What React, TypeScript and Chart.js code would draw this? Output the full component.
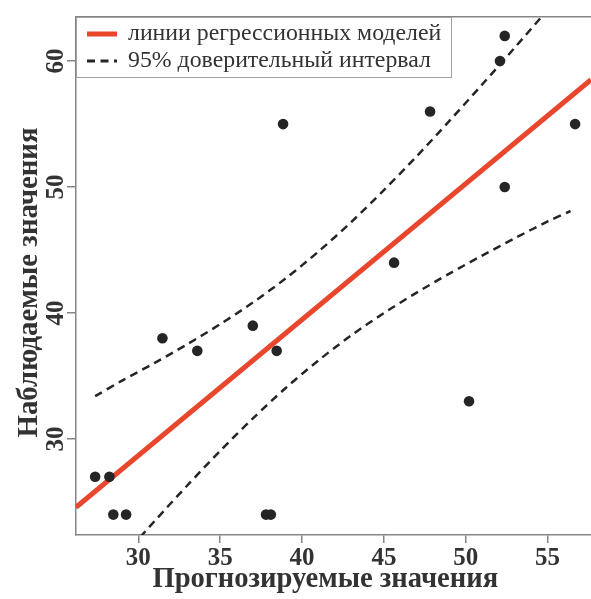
import React, { useEffect, useRef } from "react";
import { Chart, registerables } from "chart.js";

Chart.register(...registerables);

// Observed vs predicted points
const predicted = [27.36, 28.23, 28.47, 29.25, 31.47, 33.6, 36.99, 37.8, 38.09, 38.45, 38.84, 45.62, 47.82, 50.2, 52.09, 52.38, 52.38, 56.68];
const observed = [27, 27, 24, 24, 38, 37, 39, 24, 24, 37, 55, 44, 56, 33, 60, 62, 50, 55];

// Regression line (endpoints at plot edges)
const regX = [26.19, 57.65];
const regY = [24.58, 58.52];

// 95% confidence band
const ciX = [27.36, 29, 31, 33, 35, 37, 39, 41, 43, 45, 47, 49, 51, 53, 55, 56.4];
const ciUpper = [33.4, 34.63, 36.04, 37.53, 39.12, 40.84, 42.75, 44.88, 47.22, 49.76, 52.44, 55.25, 58.14, 61.08, 64.07, 66.2];
const ciLower = [18.2, 20.59, 23.5, 26.33, 29.06, 31.64, 34.05, 36.24, 38.22, 40.0, 41.62, 43.13, 44.56, 45.94, 47.27, 48.1];

const xTicks = [30, 35, 40, 45, 50, 55];
const yTicks = [30, 40, 50, 60];

const legendLabels = ["линии регрессионных моделей", "95% доверительный интервал"];
const xTitle = "Прогнозируемые значения";
const yTitle = "Наблюдаемые значения";

const AXIS = "#858585";
const TEXT = "#333333";
const RED = "#e8472e";
const DARK = "#252525";
const SERIF = "'Liberation Serif', 'Times New Roman', serif";

const legendPlugin = {
  id: "insideLegend",
  afterDraw(chart: any) {
    const { ctx, chartArea } = chart;
    const x0 = chartArea.left;
    const y0 = chartArea.top;
    const w = 375;
    const h = 60;
    ctx.save();
    ctx.fillStyle = "#ffffff";
    ctx.fillRect(x0, y0, w, h);
    ctx.strokeStyle = "#a0a0a0";
    ctx.lineWidth = 1;
    ctx.strokeRect(x0 + 0.5, y0 + 0.5, w, h);
    const items = chart.data.datasets.filter((d: any) => d.legendText);
    items.forEach((d: any, i: number) => {
      const cy = y0 + 17 + i * 27;
      ctx.beginPath();
      ctx.strokeStyle = d.borderColor;
      ctx.lineWidth = d.legendLineWidth;
      ctx.setLineDash(d.borderDash || []);
      ctx.lineCap = "butt";
      ctx.moveTo(x0 + 11, cy);
      ctx.lineTo(x0 + 41, cy);
      ctx.stroke();
      ctx.setLineDash([]);
      ctx.fillStyle = TEXT;
      ctx.font = `23.8px ${SERIF}`;
      ctx.textAlign = "left";
      ctx.textBaseline = "middle";
      ctx.fillText(d.legendText, x0 + 52, cy);
    });
    ctx.restore();
  },
};

const titlesPlugin = {
  id: "axisTitles",
  afterDraw(chart: any) {
    const { ctx, chartArea } = chart;
    ctx.save();
    ctx.fillStyle = TEXT;
    ctx.textAlign = "center";
    ctx.textBaseline = "alphabetic";
    ctx.font = `bold 28.6px ${SERIF}`;
    const cx = (chartArea.left + chartArea.right) / 2 - 8.2;
    ctx.fillText(xTitle, cx, chartArea.bottom + 52);
    ctx.font = `bold 28.8px ${SERIF}`;
    const cy = (chartArea.top + chartArea.bottom) / 2 + 6.5;
    ctx.translate(37, cy);
    ctx.rotate(-Math.PI / 2);
    ctx.fillText(yTitle, 0, 0);
    ctx.restore();
  },
};

export default function App() {
  const ref = useRef<HTMLCanvasElement>(null);
  useEffect(() => {
    if (!ref.current) return;
    const chart = new Chart(ref.current, {
      type: "scatter",
      data: {
        datasets: [
          {
            label: "points",
            data: predicted.map((x, i) => ({ x, y: observed[i] })),
            pointRadius: 5.3,
            pointBackgroundColor: DARK,
            pointBorderWidth: 0,
            showLine: false,
          },
          {
            label: "regression",
            legendText: legendLabels[0],
            legendLineWidth: 5,
            data: regX.map((x, i) => ({ x, y: regY[i] })),
            showLine: true,
            borderColor: RED,
            borderWidth: 5,
            pointRadius: 0,
            clip: 0,
          } as any,
          {
            label: "upper",
            legendText: legendLabels[1],
            legendLineWidth: 3,
            data: ciX.map((x, i) => ({ x, y: ciUpper[i] })),
            showLine: true,
            borderColor: DARK,
            borderWidth: 2.5,
            borderDash: [8, 5.5],
            pointRadius: 0,
            tension: 0.3,
            clip: 0,
          } as any,
          {
            label: "lower",
            data: ciX.map((x, i) => ({ x, y: ciLower[i] })),
            showLine: true,
            borderColor: DARK,
            borderWidth: 2.5,
            borderDash: [8, 5.5],
            pointRadius: 0,
            tension: 0.3,
            clip: 0,
          } as any,
        ],
      },
      options: {
        responsive: false,
        animation: false,
        events: [],
        layout: { padding: 0, autoPadding: false },
        plugins: { legend: { display: false }, tooltip: { enabled: false } },
        scales: {
          x: {
            type: "linear",
            position: "bottom",
            min: 26.19,
            max: 57.65,
            afterBuildTicks: (s: any) => {
              s.ticks = xTicks.map((v) => ({ value: v }));
            },
            afterFit: (s: any) => {
              s.height = 64;
            },
            ticks: {
              includeBounds: false,
              color: TEXT,
              font: { family: SERIF, size: 25, weight: "bold" },
              padding: 1,
              maxRotation: 0,
              minRotation: 0,
            },
            grid: { drawOnChartArea: false, drawTicks: true, tickLength: 8, color: AXIS, lineWidth: 1.5 },
            border: { display: true, color: AXIS, width: 1.5 },
          },
          x2: {
            type: "linear",
            position: "top",
            min: 26.19,
            max: 57.65,
            afterFit: (s: any) => {
              s.height = 17;
            },
            ticks: { display: false },
            grid: { drawOnChartArea: false, drawTicks: false, color: AXIS },
            border: { display: true, color: AXIS, width: 1.5 },
          },
          y: {
            type: "linear",
            position: "left",
            min: 22.38,
            max: 63.5,
            afterBuildTicks: (s: any) => {
              s.ticks = yTicks.map((v) => ({ value: v }));
            },
            afterFit: (s: any) => {
              s.width = 76;
            },
            ticks: {
              includeBounds: false,
              color: TEXT,
              font: { family: SERIF, size: 25, weight: "bold" },
              padding: -2,
              minRotation: 90,
              maxRotation: 90,
              crossAlign: "center",
            },
            grid: { drawOnChartArea: false, drawTicks: true, tickLength: 9, color: AXIS, lineWidth: 1.5 },
            border: { display: true, color: AXIS, width: 1.5 },
          },
        },
      } as any,
      plugins: [legendPlugin, titlesPlugin],
    });
    return () => chart.destroy();
  }, []);
  return (
    <div style={{ position: "fixed", left: 0, top: 0, width: 591, height: 599, background: "#fff" }}>
      <canvas ref={ref} width={591} height={599} style={{ display: "block" }} />
    </div>
  );
}
